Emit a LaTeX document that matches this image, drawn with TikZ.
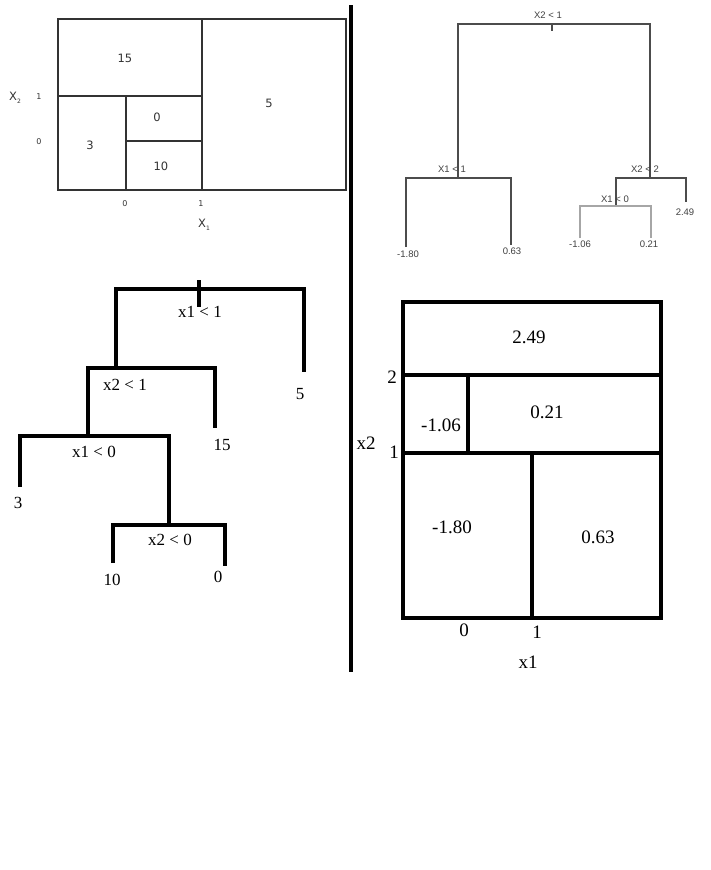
\documentclass[tikz,border=0pt]{standalone}
\usepackage{fontspec}
\setmainfont{Liberation Serif}
\newfontfamily\rsans{Liberation Sans}
\newfontfamily\dsans{DejaVu Sans}

\tikzset{
  thinbox/.style={draw=black!80, line width=1.4pt},
  rtree/.style={draw=black!70, line width=1.1pt},
  rtreelight/.style={draw=black!35, line width=1.1pt},
  paint/.style={draw=black, line width=4.2pt},
  lab/.style={inner sep=0pt, anchor=center},
  tlfont/.style={lab, text=black!80, font=\dsans\fontsize{11.5}{13}\selectfont},
  tlsmall/.style={lab, text=black!80, font=\dsans\fontsize{8}{9}\selectfont},
  trfont/.style={lab, text=black!75, font=\rsans\fontsize{9.5}{11}\selectfont},
  blfont/.style={lab, font=\fontsize{17}{20}\selectfont},
  brfont/.style={lab, font=\fontsize{19}{22}\selectfont}
}

\begin{document}
\begin{tikzpicture}[x=1pt, y=-1pt]
    \fill[white] (0,0) rectangle (710,870);
    \useasboundingbox (0,0) rectangle (710,870);

    % Draw dividing line
    \draw[line width=4pt] (351,5) -- (351,672);

    % Draw top left partition
    \draw[thinbox] (58,19) rectangle (346,190);
    \draw[thinbox] (202,19) -- (202,190);
    \draw[thinbox] (58,96) -- (202,96);
    \draw[thinbox] (126,96) -- (126,190);
    \draw[thinbox] (126,141) -- (202,141);

    % Add top left labels
    \node[tlfont] (tl15) at (125,58) {15};
    \node[tlfont] (tl5) at (269,103) {5};
    \node[tlfont] (tl0) at (157,117) {0};
    \node[tlfont] (tl3) at (90,145) {3};
    \node[tlfont] (tl10) at (161,166) {10};
    \node[tlsmall] (tlyb) at (39,97) {1};
    \node[tlsmall] (tlya) at (39,142) {0};
    \node[tlsmall] (tlxa) at (125,204) {0};
    \node[tlsmall] (tlxb) at (201,204) {1};
    \node[tlfont] (tlx2) at (15,98) {X\raisebox{-3pt}{\fontsize{6}{7}\selectfont 2}};
    \node[tlfont] (tlx1) at (204,225) {X\raisebox{-3pt}{\fontsize{6}{7}\selectfont 1}};

    % Draw top right tree
    \coordinate (r-s1) at (552,24);
    \coordinate (r-tick) at (552,31);
    \coordinate (r-a) at (458,178);
    \coordinate (r-b) at (650,178);
    \coordinate (r-c) at (616,206);
    \coordinate (r-l1) at (406,247);
    \coordinate (r-l2) at (511,245);
    \coordinate (r-l3) at (580,238);
    \coordinate (r-l4) at (651,238);
    \coordinate (r-l5) at (686,202);
    \draw[rtree] (r-a) |- (r-s1) -| (r-b);
    \draw[rtree] (r-s1) -- (r-tick);
    \draw[rtree] (r-l1) |- (r-a) -| (r-l2);
    \draw[rtree] (r-c) |- (r-b) -| (r-l5);
    \draw[rtreelight] (r-l3) |- (r-c) -| (r-l4);

    % Add top right labels
    \node[trfont] (tr-q1) at (548,15) {X2 < 1};
    \node[trfont] (tr-q2) at (452,169) {X1 < 1};
    \node[trfont] (tr-q3) at (645,169) {X2 < 2};
    \node[trfont] (tr-q4) at (615,199) {X1 < 0};
    \node[trfont] (tr-v1) at (408,254) {-1.80};
    \node[trfont] (tr-v2) at (512,251) {0.63};
    \node[trfont] (tr-v3) at (580,244) {-1.06};
    \node[trfont] (tr-v4) at (649,244) {0.21};
    \node[trfont] (tr-v5) at (685,212) {2.49};

    % Draw bottom left tree
    \coordinate (b-top) at (199,280);
    \coordinate (b-tick) at (199,307);
    \coordinate (b-s1) at (199,289);
    \coordinate (b-a) at (116,368);
    \coordinate (b-c) at (88,436);
    \coordinate (b-d) at (169,525);
    \coordinate (b-5) at (304,372);
    \coordinate (b-15) at (215,428);
    \coordinate (b-3) at (20,487);
    \coordinate (b-10) at (113,563);
    \coordinate (b-0) at (225,566);
    \draw[paint] (b-top) -- (b-tick);
    \draw[paint] (b-a) |- (b-s1) -| (b-5);
    \draw[paint] (b-c) |- (b-a) -| (b-15);
    \draw[paint] (b-3) |- (b-c) -| (b-d);
    \draw[paint] (b-10) |- (b-d) -| (b-0);

    % Add bottom left labels
    \node[blfont] (bl-q1) at (200,312) {x1 < 1};
    \node[blfont] (bl-q2) at (125,385) {x2 < 1};
    \node[blfont] (bl-q3) at (94,452) {x1 < 0};
    \node[blfont] (bl-q4) at (170,540) {x2 < 0};
    \node[blfont] (bl-v5) at (300,394) {5};
    \node[blfont] (bl-v15) at (222,445) {15};
    \node[blfont] (bl-v3) at (18,503) {3};
    \node[blfont] (bl-v10) at (112,580) {10};
    \node[blfont] (bl-v0) at (218,577) {0};

    % Draw bottom right partition
    \draw[paint] (403,302) rectangle (661,618);
    \draw[paint] (403,375) -- (661,375);
    \draw[paint] (403,453) -- (661,453);
    \draw[paint] (468,375) -- (468,453);
    \draw[paint] (532,453) -- (532,618);

    % Add bottom right labels
    \node[brfont] (br-v5) at (529,337) {2.49};
    \node[brfont] (br-v4) at (547,412) {0.21};
    \node[brfont] (br-v3) at (441,425) {-1.06};
    \node[brfont] (br-v1) at (452,527) {-1.80};
    \node[brfont] (br-v2) at (598,537) {0.63};
    \node[brfont] (br-yb) at (392,377) {2};
    \node[brfont] (br-ya) at (394,452) {1};
    \node[brfont] (br-x2) at (366,443) {x2};
    \node[brfont] (br-xa) at (464,630) {0};
    \node[brfont] (br-xb) at (537,632) {1};
    \node[brfont] (br-x1) at (528,662) {x1};
\end{tikzpicture}
\end{document}
